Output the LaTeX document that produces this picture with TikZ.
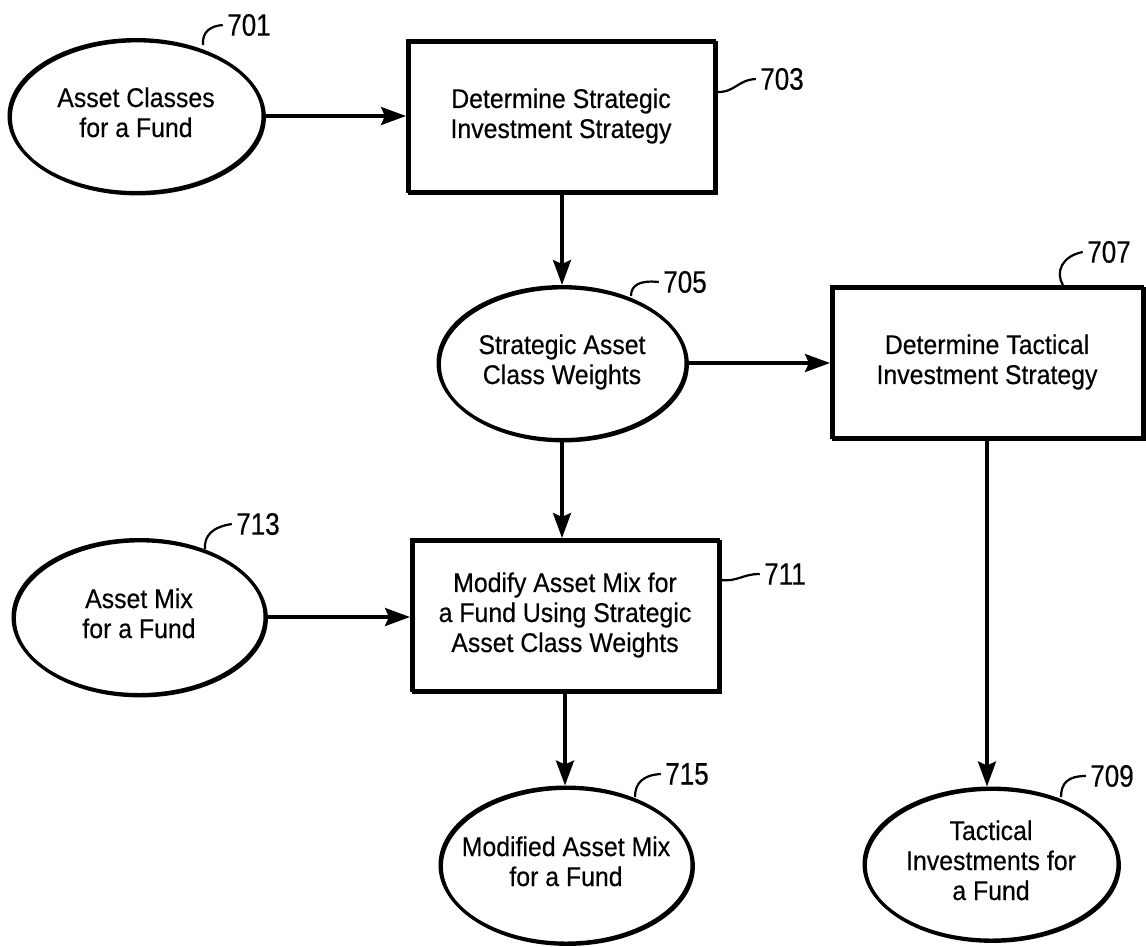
\documentclass[tikz,border=0pt]{standalone}
\usepackage{fontspec}
\setmainfont{Liberation Sans}[FakeStretch=0.92,FakeBold=0.4]
\newfontfamily\labfont{Liberation Sans}[FakeStretch=0.84,FakeBold=0.4]
\usetikzlibrary{shapes.geometric,arrows.meta}
\newcommand\ctext[1]{\makebox[0pt]{\begin{tabular}{@{}c@{}}#1\end{tabular}}}
\begin{document}
\begin{tikzpicture}[x=1pt,y=-1pt,
  line width=3pt,
  every node/.style={font=\fontsize{27}{30}\selectfont},
  oval/.style={draw, ellipse, line width=3pt,
    preaction={draw,line width=3pt,transform canvas={xshift=1.4pt,yshift=-1.4pt}},
    inner sep=0pt, minimum width=254pt, minimum height=153pt},
  procbox/.style={draw, rectangle, line width=3pt,
    preaction={draw,line width=3pt,transform canvas={xshift=2pt,yshift=-2.2pt}},
    inner sep=0pt, minimum width=307pt, minimum height=151pt, align=center},
  flow/.style={line width=3.4pt, -{Stealth[length=25pt,width=18pt,inset=4pt]}},
  refnum/.style={font=\labfont\fontsize{31}{32}\selectfont, inner sep=0pt},
  lead/.style={line width=2.2pt},
]
\useasboundingbox (0,0) rectangle (1146,946);

% shapes
\node[oval] (e701) at (136,116) {\ctext{Asset Classes\\for a Fund}};
\node[procbox] (b703) at (561,116) {Determine Strategic\\Investment Strategy};
\node[oval, minimum width=248pt] (e705) at (562,363) {\ctext{Strategic Asset\\Class Weights}};
\node[procbox, minimum width=311pt] (b707) at (987,362) {Determine Tactical\\Investment Strategy};
\node[oval, minimum width=254pt, minimum height=152pt] (e709) at (991,864) {\ctext{Tactical\\Investments for\\a Fund}};
\node[procbox] (b711) at (565,615) {Modify Asset Mix for\\a Fund Using Strategic\\Asset Class Weights};
\node[oval, minimum width=252pt, minimum height=155pt] (e713) at (139,617) {\ctext{Asset Mix\\for a Fund}};
\node[oval, minimum width=252pt, minimum height=156pt] (e715) at (566,865) {\ctext{Modified Asset Mix\\for a Fund}};

% connectors
\draw[flow] (e701.east |- b703.west) -- (b703.west);
\draw[flow] (b703.south -| e705.north) -- (e705.north);
\draw[flow] (e705.east) -- (e705.east -| b707.west);
\draw[flow] (e705.south) -- (e705.south |- b711.north);
\draw[flow] (b707.south) -- (b707.south |- e709.north);
\draw[flow] (e713.east) -- (e713.east -| b711.west);
\draw[flow] (b711.south) -- (b711.south |- e715.north);

% reference numerals
\node[refnum] (n701) at (249,25) {701};
\node[refnum] (n703) at (782,79) {703};
\node[refnum] (n705) at (685,282) {705};
\node[refnum] (n707) at (1109,252) {707};
\node[refnum] (n709) at (1112,776) {709};
\node[refnum] (n711) at (785,574) {711};
\node[refnum] (n713) at (258,524) {713};
\node[refnum] (n715) at (687,774) {715};

% leaders
\draw[lead] (203,45) .. controls (202,32) and (210,26) .. ([xshift=-3pt]n701.west);
\draw[lead] (b703.east |- 0,92) .. controls (735,93) and (737,80) .. ([xshift=-3pt]n703.west);
\draw[lead] (631,296) .. controls (631,285) and (640,280) .. ([xshift=-3pt]n705.west);
\draw[lead] (1063,285) .. controls (1055,272) and (1062,256) .. ([xshift=-3pt]n707.west);
\draw[lead] (1061,797) .. controls (1061,783) and (1068,776) .. ([xshift=-3pt]n709.west);
\draw[lead] (b711.east |- 0,580) .. controls (738,582) and (742,574) .. ([xshift=-3pt]n711.west);
\draw[lead] (205,549) .. controls (204,536) and (212,527) .. ([xshift=-3pt]n713.west);
\draw[lead] (635,797) .. controls (635,783) and (643,775) .. ([xshift=-3pt]n715.west);
\end{tikzpicture}
\end{document}
